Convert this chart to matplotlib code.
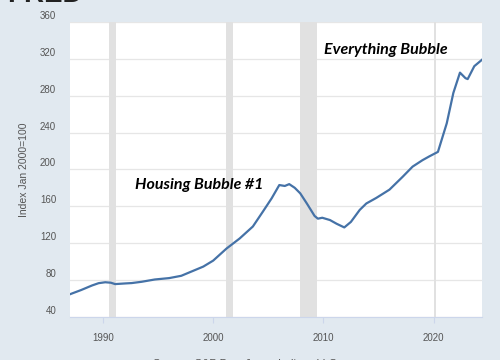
import matplotlib
matplotlib.use("Agg")
import matplotlib.pyplot as plt
import matplotlib.transforms as mtransforms

# Case-Shiller style home price index, Jan 2000 = 100
years = [1987.0, 1988.0, 1989.0, 1989.6, 1990.2, 1990.7, 1991.1, 1992.0, 1992.6, 1993.5,
         1994.7, 1996.0, 1997.1, 1998.3, 1999.1, 2000.0, 2001.2, 2002.4, 2003.6, 2004.5,
         2005.3, 2006.0, 2006.5, 2006.9, 2007.4, 2007.9, 2008.5, 2009.2, 2009.5, 2009.9,
         2010.6, 2011.2, 2011.9, 2012.5, 2013.3, 2013.9, 2014.8, 2016.0, 2017.2, 2018.1,
         2019.0, 2019.6, 2020.4, 2021.2, 2021.8, 2022.4, 2022.9, 2023.1, 2023.7, 2024.4]
values = [64.5, 69, 74, 76.5, 77.5, 77, 75.5, 76.2, 76.6, 78,
          80.5, 82, 84.5, 90.5, 94.5, 101, 114, 125, 138, 154,
          168.5, 183, 182, 184, 180, 174, 163, 149.5, 146.5, 147.5,
          145, 141, 137, 143, 156, 163, 169, 178, 192, 203,
          210, 214, 219, 250, 283, 305, 299, 298, 312, 319]

recessions = [(1990.5, 1991.17), (2001.17, 2001.83), (2007.92, 2009.42), (2020.08, 2020.25)]
yticks = [40, 80, 120, 160, 200, 240, 280, 320, 360]
xticks = [1990, 2000, 2010, 2020]

bg = '#e1e9f0'
txt = '#555555'

fig = plt.figure(figsize=(5, 3.6), dpi=100, facecolor=bg)
ax = fig.add_axes([0.14, 0.12, 0.824, 0.819])
ax.set_facecolor('white')

for a, b in recessions:
    ax.axvspan(a, b, color='#e1e1e1', lw=0, zorder=1)

ax.plot(years, values, color='#4572a7', lw=1.6, zorder=3)

ax.set_xlim(1987.0, 2024.4)
ax.set_ylim(40, 360)
ax.set_yticks(yticks)
ax.set_xticks(xticks)
ax.grid(axis='y', color='#e6e6e6', lw=0.9, zorder=0)
ax.set_axisbelow(True)
for s in ax.spines.values():
    s.set_visible(False)
ax.spines['bottom'].set_visible(True)
ax.spines['bottom'].set_color('#ccd6eb')

ax.tick_params(axis='y', length=0, labelsize=7, labelcolor=txt, pad=10)
ax.tick_params(axis='x', length=4, color='#ccd6eb', labelsize=7, labelcolor=txt, pad=8)
for lab in ax.get_yticklabels():
    lab.set_fontfamily('Liberation Sans')
    lab.set_transform(lab.get_transform() + mtransforms.ScaledTranslation(0, 5 / 72, fig.dpi_scale_trans))
for lab in ax.get_xticklabels():
    lab.set_fontfamily('Liberation Sans')

ax.set_ylabel('Index Jan 2000=100', fontsize=7.5, color=txt, family='Liberation Sans', labelpad=8)

ax.text(1992.9, 183, 'Housing Bubble #1', fontsize=11.5, fontweight='bold', fontstyle='italic',
        family='Lato', color='black', va='center', ha='left', zorder=4)
ax.text(2010.1, 330, 'Everything Bubble', fontsize=11.5, fontweight='bold', fontstyle='italic',
        family='Lato', color='black', va='center', ha='left', zorder=4)

# cropped header logo and source line
fig.text(0.015, 1 - 1.5 / 360, 'FRED', fontsize=20, fontweight='bold', color='#222222',
         va='baseline', ha='left', family='Liberation Sans')
fig.text(0.49, 1 / 360, 'Source: S&P Dow Jones Indices LLC', fontsize=8, color=txt,
         va='top', ha='center', family='Liberation Sans')

fig.savefig('out.png', dpi=100, facecolor=bg)
